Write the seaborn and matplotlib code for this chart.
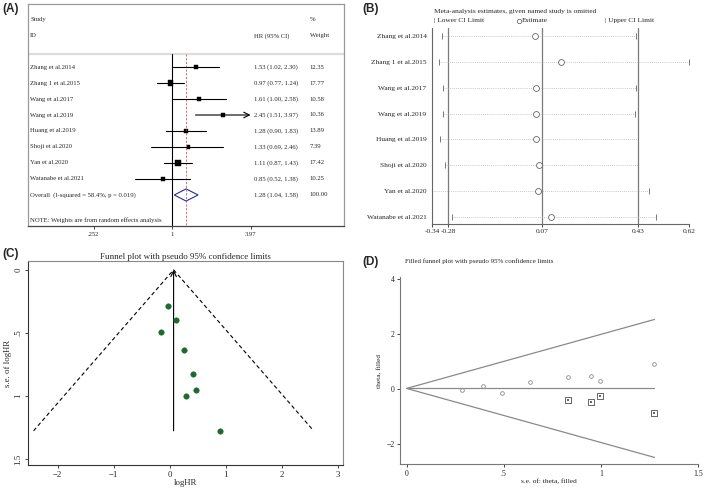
import numpy as np
import matplotlib
matplotlib.use("Agg")
import matplotlib.pyplot as plt
from matplotlib.patches import Polygon
import seaborn as sns

# ---- data -------------------------------------------------------------
studies = ["Zhang et al.2014", "Zhang 1 et al.2015", "Wang et al.2017", "Wang et al.2019",
           "Huang et al.2019", "Shoji et al.2020", "Yan et al.2020", "Watanabe et al.2021"]
hr = [1.53, 0.97, 1.61, 2.45, 1.28, 1.33, 1.11, 0.85]
hr_lo = [1.02, 0.77, 1.00, 1.51, 0.90, 0.69, 0.87, 0.52]
hr_hi = [2.30, 1.24, 2.58, 3.97, 1.83, 2.46, 1.43, 1.38]
weight = [12.35, 17.77, 10.58, 10.36, 13.89, 7.39, 17.42, 10.25]
overall_hr = 1.28
overall_lo = 1.04
overall_hi = 1.58
overall_label = "Overall  (I-squared = 58.4%, p = 0.019)"
forest_ticks = [0.252, 1, 3.97]
forest_ticklabels = [".252", "1", "3.97"]

# leave-one-out (B)
loo_est = [0.046, 0.142, 0.050, 0.048, 0.050, 0.059, 0.057, 0.105]
loo_lo = [-0.304, -0.315, -0.299, -0.299, -0.311, -0.292, -0.340, -0.266]
loo_hi = [0.421, 0.620, 0.422, 0.418, 0.430, 0.429, 0.469, 0.496]
loo_ref = [-0.28, 0.07, 0.43]
loo_ticks = [-0.34, -0.28, 0.07, 0.43, 0.62]

# funnel (C, D)
se_loghr = [0.829, 0.284, 0.950, 1.276, 0.634, 0.997, 0.395, 0.492]
funnel_center = 0.07
filled_se = [0.829, 0.950, 0.997, 1.276]
filled_theta = [-0.41, -0.46, -0.27, -0.87]
filled_center = 0.02

W, H = 709, 494


def box(l, t, r, b):
    return [l / W, 1 - b / H, (r - l) / W, (b - t) / H]


sns.set_style("white")
plt.rcParams["font.family"] = ["Liberation Serif", "DejaVu Serif"]

fig = plt.figure(figsize=(W / 100, H / 100), dpi=100)
label_font = dict(family="Liberation Sans", weight="bold", fontsize=8.5)
fig.text(2 / W, 1 - 9 / H, "(A)", va="center", ha="left", **label_font)
fig.text(362 / W, 1 - 9 / H, "(B)", va="center", ha="left", **label_font)
fig.text(2 / W, 1 - 254 / H, "(C)", va="center", ha="left", **label_font)
fig.text(362 / W, 1 - 262 / H, "(D)", va="center", ha="left", **label_font)

# ---- (A) forest plot --------------------------------------------------
axA = fig.add_axes(box(28, 4, 344, 226))
rows = np.arange(len(studies))
ln_hr = np.log(hr)
ln_lo = np.log(hr_lo)
ln_hi = np.log(hr_hi)
ymax, ytop = 9.94, -3.94
axA.set_xlim(-2.53, 3.02)
axA.set_ylim(ymax, ytop)

axA.axhline(-0.81, color="#dcdcdc", lw=1.6)
axA.plot([0, 0], [-0.81, ymax], color="black", lw=0.8)
axA.plot([np.log(overall_hr)] * 2, [-0.81, ymax], color="#d9485a", lw=0.6,
         ls=(0, (2.5, 2)))
for i in rows:
    if i == 3:
        axA.annotate("", xy=(ln_hi[i], i), xytext=(ln_lo[i], i),
                     arrowprops=dict(arrowstyle="->", lw=0.8, color="black",
                                     shrinkA=0, shrinkB=0))
    else:
        axA.plot([ln_lo[i], ln_hi[i]], [i, i], color="black", lw=0.8)
sns.scatterplot(x=ln_hr, y=rows, size=weight, sizes=(5, 14), marker="s",
                color="black", edgecolor="black", linewidth=0.3, legend=False, ax=axA)
ov = len(studies)
diamond = Polygon([(np.log(overall_lo), ov), (np.log(overall_hr), ov - 0.38),
                   (np.log(overall_hi), ov), (np.log(overall_hr), ov + 0.38)],
                  closed=True, fill=False, edgecolor="#2c2c9a", lw=0.8)
axA.add_patch(diamond)

fs = 4.8
xs, xhr, xw = 0.007, 0.715, 0.892
tr = axA.get_yaxis_transform()
axA.text(xs, -2.94, "Study", transform=tr, fontsize=fs, va="center")
axA.text(xw, -2.94, "%", transform=tr, fontsize=fs, va="center")
axA.text(xs, -1.94, "ID", transform=tr, fontsize=fs, va="center")
axA.text(xhr, -1.94, "HR (95% CI)", transform=tr, fontsize=fs, va="center")
axA.text(xw, -1.94, "Weight", transform=tr, fontsize=fs, va="center")
for i in rows:
    axA.text(xs, i, studies[i], transform=tr, fontsize=fs, va="center")
    axA.text(xhr, i, f"{hr[i]:.2f} ({hr_lo[i]:.2f}, {hr_hi[i]:.2f})", transform=tr,
             fontsize=fs, va="center")
    axA.text(xw, i, f"{weight[i]:.2f}", transform=tr, fontsize=fs, va="center")
axA.text(xs, ov, overall_label, transform=tr, fontsize=fs, va="center")
axA.text(xhr, ov, f"{overall_hr:.2f} ({overall_lo:.2f}, {overall_hi:.2f})", transform=tr,
         fontsize=fs, va="center")
axA.text(xw, ov, "100.00", transform=tr, fontsize=fs, va="center")
axA.text(xs, 9.56, "NOTE: Weights are from random effects analysis", transform=tr,
         fontsize=fs, va="center")

axA.set_yticks([])
axA.set_xticks(np.log(forest_ticks))
axA.set_xticklabels(forest_ticklabels)
axA.tick_params(axis="x", length=2, width=0.6, labelsize=fs, pad=2, bottom=True)
for s in axA.spines.values():
    s.set_color("#9a9a9a")
    s.set_linewidth(0.9)
axA.spines["bottom"].set_color("#444444")

# ---- (B) influence analysis -------------------------------------------
axB = fig.add_axes(box(432, 28, 689, 224))
axB.set_xlim(-0.34, 0.62)
axB.set_ylim(7.27, -0.31)
for v in loo_ref:
    axB.axvline(v, color="#7a7a7a", lw=0.9)
for i in rows:
    axB.plot([loo_lo[i], loo_hi[i]], [i, i], color="#b8b8b8", lw=0.6, ls=(0, (1, 1.5)))
axB.plot(loo_lo, rows, ls="none", marker="|", ms=4.5, mew=0.7, color="#777777")
axB.plot(loo_hi, rows, ls="none", marker="|", ms=4.5, mew=0.7, color="#777777")
sns.scatterplot(x=loo_est, y=rows, s=18, facecolor="white", edgecolor="#666666",
                linewidth=0.6, ax=axB, zorder=5)
axB.set_yticks(rows)
axB.set_yticklabels(studies)
axB.set_xticks(loo_ticks)
axB.set_xticklabels([f"{t:.2f}" for t in loo_ticks])
axB.tick_params(axis="y", length=0, labelsize=5.3, pad=4)
axB.tick_params(axis="x", length=2, width=0.6, labelsize=5.3, pad=1.5, bottom=True)
for s in ["top", "right"]:
    axB.spines[s].set_visible(False)
for s in ["left", "bottom"]:
    axB.spines[s].set_color("#666666")
    axB.spines[s].set_linewidth(0.8)
axB.text(0.008, 1.082, "Meta-analysis estimates, given named study is omitted",
         transform=axB.transAxes, fontsize=5.3, va="center")
axB.text(0.008, 1.036, "| Lower CI Limit", transform=axB.transAxes, fontsize=5.3, va="center")
axB.plot([0.338], [1.037], transform=axB.transAxes, marker="o", ms=3.2, mfc="none",
         mec="#555555", mew=0.5, clip_on=False)
axB.text(0.350, 1.036, "Estimate", transform=axB.transAxes, fontsize=5.3, va="center")
axB.text(0.673, 1.036, "| Upper CI Limit", transform=axB.transAxes, fontsize=5.3, va="center")

# ---- (C) funnel plot --------------------------------------------------
axC = fig.add_axes(box(28, 261, 343, 465))
se_max = max(se_loghr)
axC.plot([funnel_center - 1.96 * se_max, funnel_center, funnel_center + 1.96 * se_max],
         [se_max, 0, se_max], color="black", lw=0.8, ls=(0, (3.5, 2.5)))
axC.annotate("", xy=(funnel_center, 0), xytext=(funnel_center, se_max),
             arrowprops=dict(arrowstyle="->", lw=0.8, color="black", shrinkA=0, shrinkB=0))
sns.scatterplot(x=ln_hr, y=se_loghr, s=16, color="#1d6a2f", edgecolor="#1d6a2f",
                linewidth=0.3, ax=axC, zorder=5)
axC.set_xlim(-2.53, 3.095)
axC.set_ylim(1.547, -0.07)
axC.set_xticks([-2, -1, 0, 1, 2, 3])
axC.set_yticks([0, 0.5, 1, 1.5])
axC.set_yticklabels(["0", ".5", "1", "1.5"], rotation=90, va="center")
axC.tick_params(length=2.5, width=0.6, labelsize=6.3, pad=1.5, bottom=True, left=True)
axC.set_title("Funnel plot with pseudo 95% confidence limits", fontsize=6.5, pad=1.5)
axC.set_xlabel("logHR", fontsize=6.3, labelpad=0.5)
axC.set_ylabel("s.e. of logHR", fontsize=6.3, labelpad=1.5)
for s in axC.spines.values():
    s.set_color("#888888")
    s.set_linewidth(0.8)
axC.spines["bottom"].set_color("#333333")
axC.spines["left"].set_color("#333333")

# ---- (D) filled funnel plot -------------------------------------------
axD = fig.add_axes(box(400, 277, 698, 464))
fse_max = max(se_loghr)
axD.plot([0, fse_max], [filled_center, filled_center + 1.96 * fse_max], color="#8a8a8a", lw=0.9)
axD.plot([0, fse_max], [filled_center, filled_center - 1.96 * fse_max], color="#8a8a8a", lw=0.9)
axD.plot([0, fse_max], [filled_center, filled_center], color="#8a8a8a", lw=0.9)
sns.scatterplot(x=se_loghr, y=ln_hr, s=7, facecolor="white", edgecolor="#8a8a8a",
                linewidth=0.6, ax=axD, zorder=5)
sns.scatterplot(x=filled_se, y=filled_theta, s=14, marker="s", facecolor="white",
                edgecolor="#666666", linewidth=0.7, ax=axD, zorder=5)
sns.scatterplot(x=filled_se, y=filled_theta, s=2, marker="s", color="#666666",
                linewidth=0, ax=axD, zorder=6)
axD.set_xlim(-0.034, 1.5)
axD.set_ylim(-2.72, 4.06)
axD.set_xticks([0, 0.5, 1, 1.5])
axD.set_xticklabels(["0", ".5", "1", "1.5"])
axD.set_yticks([-2, 0, 2, 4])
axD.tick_params(length=2.5, width=0.6, labelsize=5.6, pad=1.5, bottom=True, left=True)
axD.set_xlabel("s.e. of: theta, filled", fontsize=5.3, labelpad=1)
axD.set_ylabel("theta, filled", fontsize=5.3, labelpad=3)
for s in ["top", "right"]:
    axD.spines[s].set_visible(False)
for s in ["left", "bottom"]:
    axD.spines[s].set_color("#777777")
    axD.spines[s].set_linewidth(0.8)
axD.text(0.017, 1.086, "Filled funnel plot with pseudo 95% confidence limits",
         transform=axD.transAxes, fontsize=5.0, va="center")

fig.savefig("out.png", dpi=100)
